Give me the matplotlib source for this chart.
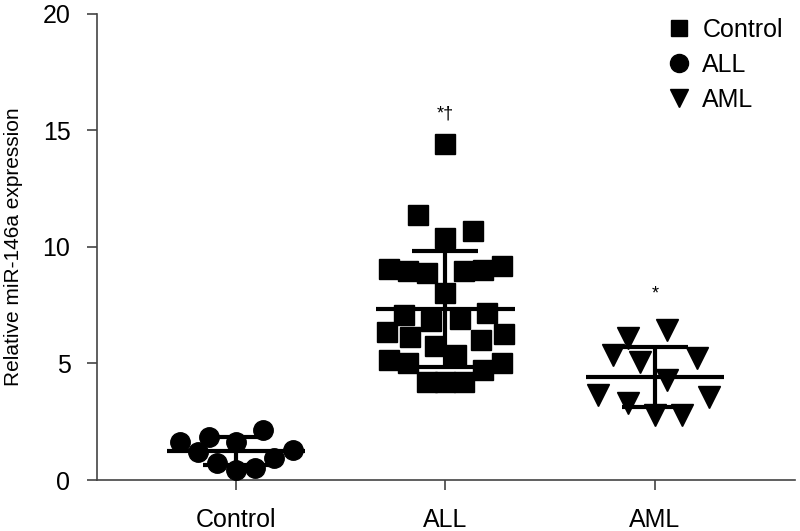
import numpy as np
import matplotlib
matplotlib.use("Agg")
import matplotlib.pyplot as plt
from matplotlib.lines import Line2D

plt.rcParams['font.family'] = ['Liberation Sans', 'DejaVu Sans']

groups = ["Control", "ALL", "AML"]

control_vals = [1.65, 1.85, 1.2, 1.65, 2.15, 0.73, 0.43, 0.5, 0.94, 1.29]
control_dx = [-0.27, -0.13, -0.18, 0.0, 0.13, -0.09, 0.0, 0.09, 0.18, 0.27]

all_vals = [14.41, 11.36, 10.4, 10.67, 9.07, 8.95, 8.86, 8.95, 9.03, 9.16,
            8.04, 7.1, 6.84, 6.92, 7.18, 6.37, 6.15, 5.76, 6.02, 6.28,
            5.16, 5.03, 5.38, 4.73, 5.03, 4.22, 4.22, 4.22]
all_dx = [0.0, -0.13, 0.0, 0.13, -0.27, -0.18, -0.09, 0.09, 0.18, 0.27,
          0.0, -0.2, -0.07, 0.07, 0.2, -0.28, -0.17, -0.05, 0.17, 0.28,
          -0.27, -0.18, 0.05, 0.18, 0.27, -0.09, 0.0, 0.09]

aml_vals = [6.45, 6.1, 5.38, 5.08, 5.25, 4.3, 3.66, 3.31, 3.57, 2.8, 2.8]
aml_dx = [0.06, -0.13, -0.2, -0.07, 0.2, 0.06, -0.27, -0.13, 0.26, 0.0, 0.13]

markers = ["o", "s", "v"]
marker_sizes = [14, 15, 16]
signif = ["", "*\u2020", "*"]
signif_y = [0, 15.7, 8.0]

fig = plt.figure(figsize=(8, 5.31), dpi=100)
ax = fig.add_axes([0.121, 0.096, 0.873, 0.878])

data = [(control_vals, control_dx), (all_vals, all_dx), (aml_vals, aml_dx)]
for i, (vals, dx) in enumerate(data):
    pos = i + 1
    vals = np.array(vals)
    ax.plot(pos + np.array(dx), vals, linestyle="none", marker=markers[i],
            ms=marker_sizes[i], color="black", zorder=3)
    m = vals.mean()
    sd = vals.std(ddof=1)
    ax.hlines(m, pos - 0.33, pos + 0.33, color="black", lw=3, zorder=4)
    ax.errorbar(pos, m, yerr=sd, color="black", elinewidth=3, capsize=24,
                capthick=3, zorder=4)
    if signif[i]:
        ax.text(pos, signif_y[i], signif[i], ha="center", va="center", fontsize=13)

ax.set_xlim(0.335, 3.67)
ax.set_ylim(0, 20)
ax.set_xticks([1, 2, 3])
ax.set_xticklabels(groups)
ax.set_yticks([0, 5, 10, 15, 20])
ax.tick_params(labelsize=18, length=7, color="#444444", width=1.2)
ax.tick_params(axis="y", pad=12)
ax.tick_params(axis="x", pad=13)
ax.set_ylabel("Relative miR-146a expression", fontsize=15)
ax.yaxis.set_label_coords(-0.106, 0.5)
for s in ["top", "right"]:
    ax.spines[s].set_visible(False)
for s in ["left", "bottom"]:
    ax.spines[s].set_color("#444444")
    ax.spines[s].set_linewidth(1.2)

handles = [Line2D([], [], marker="s", ms=12, color="black", linestyle="none"),
           Line2D([], [], marker="o", ms=13, color="black", linestyle="none"),
           Line2D([], [], marker="v", ms=13, color="black", linestyle="none")]
ax.legend(handles, ["Control", "ALL", "AML"], loc="upper left",
          bbox_to_anchor=(0.774, 1.04), frameon=False, fontsize=18,
          handletextpad=0.2, labelspacing=0.45, handlelength=1.5)

fig.savefig("out.png", dpi=100)
